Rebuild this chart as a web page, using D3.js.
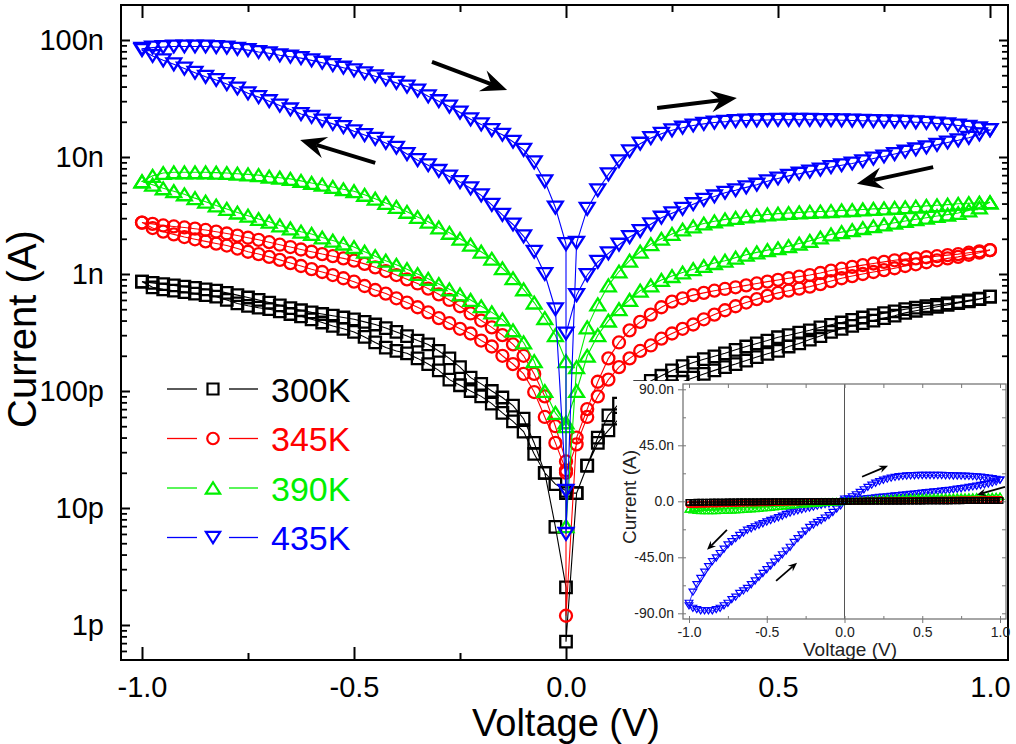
<!DOCTYPE html>
<html><head><meta charset="utf-8">
<script src="https://cdn.jsdelivr.net/npm/d3@7"></script>
<style>
body{margin:0;background:#fff}
svg{display:block}
text{font-family:"Liberation Sans",Arial,Helvetica,sans-serif}
</style>
</head><body>
<svg id="chart" width="1016" height="744"></svg>
<script>
// ---------- DATA (currents in nA, indexed by |V| = voltageSteps[i]) ----------
const voltageSteps = [0,0.025,0.05,0.075,0.1,0.125,0.15,0.175,0.2,0.225,0.25,0.275,0.3,0.325,0.35,0.375,0.4,0.425,0.45,0.475,0.5,0.525,0.55,0.575,0.6,0.625,0.65,0.675,0.7,0.725,0.75,0.775,0.8,0.825,0.85,0.875,0.9,0.925,0.95,0.975,1];
const temperatures = ["300K","345K","390K","435K"];

// 300K
const i300_fwdPos = [0.00072,0.0134,0.023,0.04,0.062,0.078,0.092,0.108,0.122,0.135,0.15,0.163,0.175,0.187,0.198,0.21,0.225,0.24,0.255,0.27,0.288,0.3,0.315,0.33,0.35,0.368,0.385,0.405,0.425,0.445,0.463,0.48,0.5,0.515,0.53,0.545,0.56,0.575,0.595,0.615,0.64];
const i300_revPos = [0.0134,0.0134,0.023,0.036,0.046,0.058,0.07,0.08,0.09,0.1,0.11,0.12,0.13,0.14,0.15,0.16,0.17,0.182,0.195,0.208,0.22,0.24,0.255,0.275,0.295,0.32,0.34,0.36,0.38,0.4,0.42,0.44,0.465,0.485,0.505,0.525,0.545,0.565,0.585,0.61,0.64];
const i300_revNeg = [0.014,0.016,0.02,0.029,0.045,0.055,0.065,0.078,0.09,0.1,0.112,0.125,0.15,0.17,0.19,0.21,0.22,0.235,0.26,0.29,0.32,0.34,0.36,0.385,0.41,0.435,0.455,0.48,0.5,0.515,0.535,0.56,0.6,0.64,0.66,0.68,0.7,0.72,0.74,0.77,0.86];
const i300_fwdNeg = [0.0021,0.0069,0.02,0.036,0.058,0.075,0.088,0.1,0.115,0.13,0.16,0.19,0.22,0.25,0.27,0.295,0.32,0.345,0.37,0.39,0.41,0.425,0.44,0.455,0.47,0.49,0.51,0.54,0.57,0.6,0.63,0.66,0.69,0.72,0.74,0.76,0.78,0.8,0.82,0.84,0.86];

// 345K
const i345_fwdPos = [0.0012,0.04,0.07,0.12,0.19,0.26,0.33,0.39,0.45,0.52,0.58,0.62,0.66,0.69,0.72,0.745,0.77,0.8,0.83,0.86,0.89,0.92,0.95,0.98,1.02,1.07,1.11,1.15,1.19,1.23,1.27,1.31,1.34,1.36,1.39,1.42,1.45,1.48,1.52,1.56,1.6];
const i345_revPos = [0.02,0.035,0.06,0.09,0.125,0.16,0.19,0.22,0.245,0.28,0.31,0.34,0.37,0.41,0.45,0.49,0.53,0.57,0.61,0.65,0.69,0.72,0.75,0.78,0.82,0.87,0.92,0.96,1.0,1.04,1.08,1.12,1.17,1.21,1.26,1.31,1.36,1.4,1.46,1.52,1.6];
const i345_revNeg = [0.021,0.036,0.06,0.098,0.14,0.17,0.2,0.24,0.27,0.31,0.34,0.38,0.42,0.47,0.52,0.57,0.62,0.68,0.73,0.79,0.86,0.92,0.98,1.04,1.1,1.17,1.24,1.32,1.4,1.48,1.55,1.65,1.75,1.82,1.9,1.98,2.07,2.18,2.3,2.47,2.75];
const i345_fwdNeg = [0.025,0.05,0.09,0.14,0.2,0.25,0.3,0.35,0.4,0.46,0.53,0.6,0.67,0.75,0.83,0.9,0.98,1.06,1.14,1.22,1.3,1.36,1.42,1.48,1.55,1.62,1.7,1.78,1.87,1.96,2.04,2.13,2.22,2.3,2.38,2.44,2.5,2.55,2.6,2.68,2.75];

// 390K
const i390_fwdPos = [0.007,0.16,0.35,0.55,0.8,1.05,1.3,1.55,1.8,2.0,2.2,2.4,2.55,2.7,2.82,2.93,3.02,3.1,3.17,3.23,3.28,3.32,3.36,3.4,3.42,3.45,3.5,3.52,3.56,3.6,3.64,3.68,3.72,3.77,3.82,3.87,3.92,3.98,4.03,4.07,4.1];
const i390_revPos = [0.054,0.1,0.2,0.3,0.4,0.5,0.6,0.72,0.8,0.89,0.96,1.03,1.1,1.17,1.24,1.3,1.38,1.46,1.53,1.6,1.66,1.73,1.82,1.92,2.05,2.18,2.28,2.37,2.47,2.56,2.65,2.74,2.84,2.94,3.03,3.13,3.22,3.32,3.5,3.7,4.1];
const i390_revNeg = [0.05,0.065,0.1,0.18,0.26,0.33,0.41,0.47,0.53,0.6,0.67,0.74,0.82,0.91,1.0,1.1,1.2,1.3,1.42,1.55,1.7,1.82,1.93,2.05,2.2,2.3,2.45,2.6,2.8,2.95,3.15,3.35,3.6,3.85,4.15,4.45,4.8,5.1,5.4,5.8,6.2];
const i390_fwdNeg = [0.18,0.3,0.42,0.57,0.74,0.92,1.12,1.35,1.55,1.78,2.0,2.25,2.5,2.8,3.07,3.4,3.75,4.05,4.4,4.75,5.1,5.3,5.55,5.8,6.0,6.25,6.5,6.65,6.8,7.0,7.1,7.2,7.3,7.35,7.4,7.4,7.4,7.4,7.3,6.9,6.2];

// 435K
const i435_fwdPos = [0.006,1.85,3.6,5.2,7.1,9.2,11.2,13.0,14.5,15.8,16.9,17.8,18.6,19.2,19.7,20.0,20.3,20.5,20.6,20.7,20.8,20.8,20.8,20.8,20.7,20.7,20.6,20.5,20.4,20.3,20.2,20.1,20.0,19.8,19.6,19.3,19.0,18.6,18.1,17.6,17.0];
const i435_revPos = [0.31,0.66,0.98,1.27,1.5,1.78,2.07,2.33,2.66,3.03,3.3,3.6,3.95,4.3,4.6,4.95,5.2,5.5,5.8,6.2,6.55,6.9,7.2,7.5,7.8,8.2,8.5,8.8,9.2,9.7,10.1,10.6,11.1,11.6,12.1,12.7,13.3,13.9,14.6,15.6,17.0];
const i435_revNeg = [0.014,0.5,1.0,1.55,2.1,2.65,3.2,3.9,4.7,5.4,6.1,6.8,7.6,8.5,9.4,10.6,12.0,13.2,14.3,15.4,16.6,18.0,19.2,20.5,22.0,23.3,25.5,27.5,30,32.5,35,38.5,42,45.5,48.5,52.5,57,62,67,73,82];
const i435_fwdNeg = [1.8,3.7,6.2,9,11.5,13.5,15.5,17,19,21,24,27,30,33,37,40,43,46,49,52,55,58,61,64,67,70,72,74,77,79,82,84,86,87,88,88,88,88,87,86,84];

// axis ticks
const xMajorTicks = [-1,-0.5,0,0.5,1];
const xTickLabels = ["-1.0","-0.5","0.0","0.5","1.0"];
const xMinorTicks = [-0.75,-0.25,0.25,0.75];
const yMajorTicks = [0.001,0.01,0.1,1,10,100];
const yTickLabels = ["1p","10p","100p","1n","10n","100n"];
const yMinorTicks = [0.0006,0.0007,0.0008,0.0009,
  0.002,0.003,0.004,0.005,0.006,0.007,0.008,0.009,
  0.02,0.03,0.04,0.05,0.06,0.07,0.08,0.09,
  0.2,0.3,0.4,0.5,0.6,0.7,0.8,0.9,
  2,3,4,5,6,7,8,9,
  20,30,40,50,60,70,80,90];
const insetXTicks = [-1,-0.5,0,0.5,1];
const insetXLabels = ["-1.0","-0.5","0.0","0.5","1.0"];
const insetXMinor = [-1,-0.75,-0.5,-0.25,0,0.25,0.5,0.75,1];
const insetYTicks = [-90,-45,0,45,90];
const insetYLabels = ["-90.0n","-45.0n","0.0","45.0n","90.0n"];
const insetYMinor = [-90,-67.5,-45,-22.5,0,22.5,45,67.5,90];

// ---------- CHART ----------
const colors = {"300K":"#000000","345K":"#ff0000","390K":"#00f000","435K":"#0000ff"};
const symbolType = {"300K":"square","345K":"circle","390K":"triUp","435K":"triDown"};
const seriesBranches = {
  "300K":[i300_fwdPos,i300_revPos,i300_revNeg,i300_fwdNeg],
  "345K":[i345_fwdPos,i345_revPos,i345_revNeg,i345_fwdNeg],
  "390K":[i390_fwdPos,i390_revPos,i390_revNeg,i390_fwdNeg],
  "435K":[i435_fwdPos,i435_revPos,i435_revNeg,i435_fwdNeg]
};
function loopPoints(b){
  const [fp,rp,rn,fn]=b, pts=[];
  fp.forEach((v,i)=>pts.push({V:voltageSteps[i],I:v}));
  for(let i=rp.length-1;i>=0;i--) pts.push({V:voltageSteps[i],I:rp[i]});
  rn.forEach((v,i)=>pts.push({V:-voltageSteps[i],I:v}));
  for(let i=fn.length-1;i>=0;i--) pts.push({V:-voltageSteps[i],I:fn[i]});
  return pts;
}
const series = temperatures.map(t=>({name:t,points:loopPoints(seriesBranches[t])}));

function symPath(type,s){
  if(type==="square"){const h=s/2;return `M${-h},${-h}H${h}V${h}H${-h}Z`;}
  if(type==="triDown"){const w=s*0.55,h=s*0.44;return `M${-w},${-h}L${w},${-h}L0,${h}Z`;}
  if(type==="triUp"){const w=s*0.55,h=s*0.44;return `M${-w},${h}L${w},${h}L0,${-h}Z`;}
  const r=s/2;return `M${r},0A${r},${r} 0 1,1 ${-r},0A${r},${r} 0 1,1 ${r},0Z`;
}
const mainSize = {square:11.5, circle:12, triUp:13.5, triDown:13.5};

const svg=d3.select("#chart");
svg.append("rect").attr("width",1016).attr("height",744).attr("fill","#fff");
const F={left:121,top:5,right:1008,bottom:660};
const x=d3.scaleLinear().domain([-1,1]).range([142,990]);
const y=d3.scaleLog().domain([0.001,100]).range([625,40]);

const defs=svg.append("defs");
defs.append("clipPath").attr("id","mainClip").append("rect")
  .attr("x",F.left).attr("y",F.top).attr("width",F.right-F.left).attr("height",F.bottom-F.top);

// data
const gData=svg.append("g").attr("clip-path","url(#mainClip)");
const line=d3.line().x(d=>x(d.V)).y(d=>y(d.I));
series.forEach(s=>{
  const g=gData.append("g");
  const pts=s.points.concat([s.points[0]]);
  g.append("path").attr("d",line(pts)).attr("fill","none").attr("stroke",colors[s.name]).attr("stroke-width",1.1);
  g.selectAll("path.m").data(s.points).join("path").attr("class","m")
    .attr("transform",d=>`translate(${x(d.V)},${y(d.I)})`)
    .attr("d",symPath(symbolType[s.name],mainSize[symbolType[s.name]]))
    .attr("fill","none").attr("stroke",colors[s.name]).attr("stroke-width",2.3);
});

// arrows
function arrow(g,x1,y1,x2,y2,w,L,W,N,color){
  const a=Math.atan2(y2-y1,x2-x1), c=Math.cos(a), s=Math.sin(a);
  g.append("line").attr("x1",x1).attr("y1",y1).attr("x2",x2-c*N).attr("y2",y2-s*N)
    .attr("stroke",color).attr("stroke-width",w);
  const bx=x2-c*L, by=y2-s*L, nx=x2-c*N, ny=y2-s*N;
  g.append("path").attr("d",`M${x2},${y2}L${bx-s*W},${by+c*W}L${nx},${ny}L${bx+s*W},${by-c*W}Z`).attr("fill",color);
}
const mainArrows=[
  {v1:-0.316,i1:65,v2:-0.139,i2:37.4},
  {v1:-0.45,i1:8.9,v2:-0.627,i2:14},
  {v1:0.215,i1:26.2,v2:0.403,i2:31.9},
  {v1:0.866,i1:8.2,v2:0.686,i2:5.9}
];
const gA=svg.append("g");
mainArrows.forEach(d=>arrow(gA,x(d.v1),y(d.i1),x(d.v2),y(d.i2),4,26,11,17,"#000"));

// axes
function styleAxis(g,w){g.select(".domain").remove();g.selectAll("line").attr("stroke","#000").attr("stroke-width",w);}
const fontFam='"Liberation Sans",Arial,Helvetica,sans-serif';
let g;
g=svg.append("g").attr("transform",`translate(0,${F.bottom})`)
  .call(d3.axisBottom(x).tickValues(xMajorTicks).tickFormat((d,i)=>xTickLabels[i]).tickSizeInner(-13).tickSizeOuter(0).tickPadding(16))
  .attr("font-family",fontFam).attr("font-size",29);
styleAxis(g,2); g.selectAll("text").attr("fill","#000");
g=svg.append("g").attr("transform",`translate(0,${F.bottom})`)
  .call(d3.axisBottom(x).tickValues(xMinorTicks).tickFormat("").tickSizeInner(-7).tickSizeOuter(0));
styleAxis(g,2);
g=svg.append("g").attr("transform",`translate(0,${F.top})`)
  .call(d3.axisTop(x).tickValues(xMajorTicks).tickFormat("").tickSizeInner(-13).tickSizeOuter(0));
styleAxis(g,2);
g=svg.append("g").attr("transform",`translate(0,${F.top})`)
  .call(d3.axisTop(x).tickValues(xMinorTicks).tickFormat("").tickSizeInner(-7).tickSizeOuter(0));
styleAxis(g,2);
g=svg.append("g").attr("transform",`translate(${F.left},0)`)
  .call(d3.axisLeft(y).tickValues(yMajorTicks).tickFormat((d,i)=>yTickLabels[i]).tickSizeInner(-9).tickSizeOuter(0).tickPadding(17))
  .attr("font-family",fontFam).attr("font-size",29);
styleAxis(g,2); g.selectAll("text").attr("fill","#000");
g=svg.append("g").attr("transform",`translate(${F.left},0)`)
  .call(d3.axisLeft(y).tickValues(yMinorTicks).tickFormat("").tickSizeInner(-6).tickSizeOuter(0));
styleAxis(g,1.8);
g=svg.append("g").attr("transform",`translate(${F.right},0)`)
  .call(d3.axisRight(y).tickValues(yMajorTicks).tickFormat("").tickSizeInner(-9).tickSizeOuter(0));
styleAxis(g,2);
g=svg.append("g").attr("transform",`translate(${F.right},0)`)
  .call(d3.axisRight(y).tickValues(yMinorTicks).tickFormat("").tickSizeInner(-6).tickSizeOuter(0));
styleAxis(g,1.8);

svg.append("rect").attr("x",F.left).attr("y",F.top).attr("width",F.right-F.left).attr("height",F.bottom-F.top)
  .attr("fill","none").attr("stroke","#000").attr("stroke-width",2);

svg.append("text").attr("x",566).attr("y",736).attr("text-anchor","middle").attr("font-size",38).text("Voltage (V)");
svg.append("text").attr("transform","translate(36,329) rotate(-90)").attr("text-anchor","middle").attr("font-size",40).text("Current (A)");

// legend
const gL=svg.append("g");
temperatures.forEach((t,i)=>{
  const cy=389+i*49.5;
  gL.append("line").attr("x1",167).attr("x2",197).attr("y1",cy).attr("y2",cy).attr("stroke",colors[t]).attr("stroke-width",1.3);
  gL.append("line").attr("x1",229).attr("x2",258).attr("y1",cy).attr("y2",cy).attr("stroke",colors[t]).attr("stroke-width",1.3);
  gL.append("path").attr("transform",`translate(213,${cy})`).attr("d",symPath(symbolType[t],mainSize[symbolType[t]]-0.5))
    .attr("fill","none").attr("stroke",colors[t]).attr("stroke-width",2.2);
  gL.append("text").attr("x",271).attr("y",cy+12.5).attr("font-size",34).attr("fill",colors[t]).text(t);
});

// ---------- INSET ----------
svg.append("rect").attr("x",617).attr("y",381).attr("width",390).attr("height",278).attr("fill","#fff");
const IF={left:683,top:384,right:1006,bottom:619};
const xi=d3.scaleLinear().domain([-1,1]).range([689,1000]);
const yi=d3.scaleLinear().domain([-90,90]).range([613.3,389.3]);
defs.append("clipPath").attr("id","insetClip").append("rect")
  .attr("x",IF.left).attr("y",IF.top).attr("width",IF.right-IF.left).attr("height",IF.bottom-IF.top);
const gray="#777";
svg.append("line").attr("x1",xi(0)).attr("x2",xi(0)).attr("y1",IF.top).attr("y2",IF.bottom).attr("stroke","#555").attr("stroke-width",1);
const gI=svg.append("g").attr("clip-path","url(#insetClip)");
const signed=d=>d.V<0?-d.I:d.I;
const lineI=d3.line().x(d=>xi(d.V)).y(d=>yi(signed(d)));
const insetSize = {square:5.5, circle:5.5, triUp:7, triDown:7};
series.slice().reverse().forEach(s=>{
  const gg=gI.append("g");
  gg.append("path").attr("d",lineI(s.points)).attr("fill","none").attr("stroke",colors[s.name]).attr("stroke-width",0.8);
  gg.selectAll("path.m").data(s.points).join("path").attr("class","m")
    .attr("transform",d=>`translate(${xi(d.V)},${yi(signed(d))})`)
    .attr("d",symPath(symbolType[s.name],insetSize[symbolType[s.name]]))
    .attr("fill","none").attr("stroke",colors[s.name]).attr("stroke-width",1.2);
});
const insetArrows=[
  {v1:0.113,i1:19.7,v2:0.28,i2:28.5},
  {v1:1.032,i1:11.6,v2:0.852,i2:5.2},
  {v1:-0.756,i1:-22.9,v2:-0.884,i2:-39},
  {v1:-0.44,i1:-63.9,v2:-0.305,i2:-49.4}
];
const gIA=svg.append("g");
insetArrows.forEach(d=>arrow(gIA,xi(d.v1),yi(d.i1),xi(d.v2),yi(d.i2),1.8,9,3.8,6,"#000"));

function styleI(g){g.select(".domain").remove();g.selectAll("line").attr("stroke",gray).attr("stroke-width",1);g.selectAll("text").attr("fill","#222");}
g=svg.append("g").attr("transform",`translate(0,${IF.bottom})`)
  .call(d3.axisBottom(xi).tickValues(insetXTicks).tickFormat((d,i)=>insetXLabels[i]).tickSizeInner(4).tickSizeOuter(0).tickPadding(4))
  .attr("font-family",fontFam).attr("font-size",14);
styleI(g);
g=svg.append("g").attr("transform",`translate(0,${IF.bottom})`)
  .call(d3.axisBottom(xi).tickValues(insetXMinor).tickFormat("").tickSizeInner(-3).tickSizeOuter(0));
styleI(g);
g=svg.append("g").attr("transform",`translate(0,${IF.top})`)
  .call(d3.axisTop(xi).tickValues(insetXMinor).tickFormat("").tickSizeInner(-4).tickSizeOuter(0));
styleI(g);
g=svg.append("g").attr("transform",`translate(${IF.left},0)`)
  .call(d3.axisLeft(yi).tickValues(insetYTicks).tickFormat((d,i)=>insetYLabels[i]).tickSizeInner(5).tickSizeOuter(0).tickPadding(4))
  .attr("font-family",fontFam).attr("font-size",14);
styleI(g);
g=svg.append("g").attr("transform",`translate(${IF.left},0)`)
  .call(d3.axisLeft(yi).tickValues(insetYMinor).tickFormat("").tickSizeInner(-3).tickSizeOuter(0));
styleI(g);
g=svg.append("g").attr("transform",`translate(${IF.right},0)`)
  .call(d3.axisRight(yi).tickValues(insetYMinor).tickFormat("").tickSizeInner(-4).tickSizeOuter(0));
styleI(g);
svg.append("rect").attr("x",IF.left).attr("y",IF.top).attr("width",IF.right-IF.left).attr("height",IF.bottom-IF.top)
  .attr("fill","none").attr("stroke",gray).attr("stroke-width",1.3);
svg.append("text").attr("x",850).attr("y",656).attr("text-anchor","middle").attr("font-size",19).attr("fill","#222").text("Voltage (V)");
svg.append("text").attr("transform","translate(636,497) rotate(-90)").attr("text-anchor","middle").attr("font-size",19).attr("fill","#222").text("Current (A)");
</script>
</body></html>
